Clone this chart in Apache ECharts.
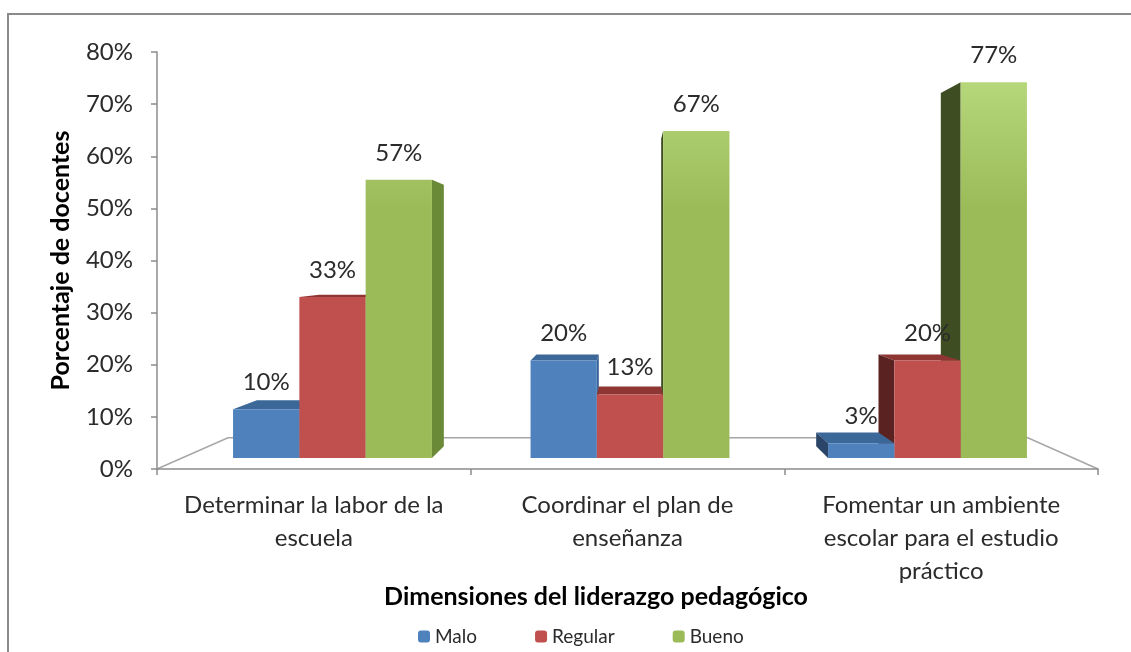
<!DOCTYPE html>
<html>
<head>
<meta charset="utf-8">
<script src="https://cdn.jsdelivr.net/npm/echarts@6/dist/echarts.min.js"></script>
<style>
html,body{margin:0;padding:0;background:#fff;}
#c{width:1131px;height:652px;}
</style>
</head>
<body>
<div id="c"></div>
<script>
// ---- data ----
const categories = ['Determinar la labor de la\nescuela', 'Coordinar el plan de\nenseñanza', 'Fomentar un ambiente\nescolar para el estudio\npráctico'];
const seriesNames = ['Malo', 'Regular', 'Bueno'];
const malo = [10, 20, 3];
const regular = [33, 13, 20];
const bueno = [57, 67, 77];
const yTicks = [0, 10, 20, 30, 40, 50, 60, 70, 80];
const xTitle = 'Dimensiones del liderazgo pedagógico';
const yTitle = 'Porcentaje de docentes';

// ---- styles / layout ----
const FONT = 'Lato';
const colors = {
  front: ['#4F81BD', '#C0504D', '#9BBB59'],
  top:   ['#3C6799', '#8E3633', '#7F9D48'],
  rightSide: ['#3B6596', '#7E2F2D', '#6A8A38'],
  leftSide:  ['#2A4568', '#5A2322', '#3E4E22']
};
const gridA = {left: 157, top: 52, width: 941, height: 417};
const gridB = {left: 183.75, top: 67.6, width: 892.5, height: 390.4};
const BAR_W = 66.3;
const DEPTH = 0.06;
const FLOOR_DEPTH = 0.15;
const VP_VALUE = 40.4;

const allValues = [malo, regular, bueno];
const barData = [];
allValues.forEach((arr, s) => arr.forEach((v, c) => barData.push([c, v, s])));

const chart = echarts.init(document.getElementById('c'), null, {renderer: 'canvas'});

function renderBar(params, api) {
  const c = api.value(0), v = api.value(1), s = api.value(2);
  const base = api.coord([c, 0]);
  const topY = api.coord([c, v])[1];
  const botY = base[1];
  const vp = [api.coord([1, 0])[0], api.coord([1, VP_VALUE])[1]];
  const x0 = base[0] + (s - 1) * BAR_W - BAR_W / 2;
  const x1 = x0 + BAR_W;
  const back = p => [p[0] + DEPTH * (vp[0] - p[0]), p[1] + DEPTH * (vp[1] - p[1])];
  const cx = (x0 + x1) / 2;
  const z = 1000 - Math.abs(cx - vp[0]);
  const children = [];
  if (topY > vp[1]) {
    children.push({type: 'polygon', z2: z, shape: {points: [[x0, topY], [x1, topY], back([x1, topY]), back([x0, topY])]},
      style: {fill: colors.top[s]}});
  }
  if (x0 > vp[0]) {
    children.push({type: 'polygon', z2: z, shape: {points: [[x0, topY], back([x0, topY]), back([x0, botY]), [x0, botY]]},
      style: {fill: colors.leftSide[s]}});
  }
  if (x1 < vp[0]) {
    children.push({type: 'polygon', z2: z, shape: {points: [[x1, topY], back([x1, topY]), back([x1, botY]), [x1, botY]]},
      style: {fill: colors.rightSide[s]}});
  }
  let frontFill = colors.front[s];
  if (s === 2) {
    frontFill = new echarts.graphic.LinearGradient(0, 70, 0, 210, [
      {offset: 0, color: '#B8D97D'}, {offset: 1, color: '#9BBB59'}], true);
  }
  children.push({type: 'rect', z2: z + 0.5, shape: {x: x0, y: topY, width: BAR_W, height: botY - topY},
    style: {fill: frontFill}});
  children.push({type: 'text', z2: 5000, x: cx, y: topY - 27,
    style: {text: v + '%', font: '24px ' + FONT, fill: '#2b2b2b', align: 'center', verticalAlign: 'middle'}});
  return {type: 'group', children: children};
}

// floor (perspective decoration) computed from layout
const vpX = gridB.left + gridB.width / 2;
const vpY = gridB.top + gridB.height * (1 - VP_VALUE / 80);
const fl = [gridA.left, gridA.top + gridA.height];
const fr = [gridA.left + gridA.width, gridA.top + gridA.height];
const fb = p => [p[0] + FLOOR_DEPTH * (vpX - p[0]), p[1] + FLOOR_DEPTH * (vpY - p[1])];

const option = {
  backgroundColor: '#fff',
  animation: false,
  textStyle: {fontFamily: FONT},
  grid: [
    Object.assign({containLabel: false}, gridA),
    Object.assign({containLabel: false}, gridB)
  ],
  xAxis: [
    {type: 'category', gridIndex: 0, data: categories,
      axisLine: {lineStyle: {color: '#8C8C8C', width: 1.5}},
      axisTick: {show: true, length: 6, interval: 0, lineStyle: {color: '#8C8C8C', width: 1.5}},
      axisLabel: {interval: 0, fontSize: 24, lineHeight: 33, color: '#2b2b2b', margin: 20, fontFamily: FONT}},
    {type: 'category', gridIndex: 1, data: categories, show: false}
  ],
  yAxis: [
    {type: 'value', gridIndex: 0, min: 0, max: 80, interval: 10,
      name: yTitle, nameLocation: 'middle', nameGap: 84,
      nameTextStyle: {fontSize: 25, fontWeight: 'bold', color: '#000', fontFamily: FONT},
      axisLine: {show: true, lineStyle: {color: '#8C8C8C', width: 1.5}},
      axisTick: {show: true, length: 6, lineStyle: {color: '#8C8C8C', width: 1.5}},
      splitLine: {show: false},
      axisLabel: {formatter: '{value}%', fontSize: 24, color: '#2b2b2b', margin: 24, fontFamily: FONT}},
    {type: 'value', gridIndex: 1, min: 0, max: 80, show: false, splitLine: {show: false}}
  ],
  legend: {
    data: seriesNames, left: 413, top: 622, itemWidth: 12, itemHeight: 12, itemGap: 58,
    textStyle: {fontSize: 19, color: '#2b2b2b', fontFamily: FONT}, selectedMode: false
  },
  graphic: [
    {type: 'rect', z: -10, shape: {x: 8, y: 14, width: 1300, height: 800},
      style: {fill: 'none', stroke: '#8A8A8A', lineWidth: 2}},
    {type: 'polyline', z: 0, shape: {points: [fl, fb(fl), fb(fr), fr]},
      style: {stroke: '#A6A6A6', lineWidth: 1.5, fill: 'none'}},
    {type: 'text', x: 596, y: 597, style: {text: xTitle, font: 'bold 25px ' + FONT, fill: '#000',
      align: 'center', verticalAlign: 'middle'}}
  ],
  series: [
    {type: 'custom', name: 'bars3d', xAxisIndex: 1, yAxisIndex: 1, data: barData,
      encode: {x: 0, y: 1}, renderItem: renderBar, clip: false, z: 3},
    {type: 'bar', name: seriesNames[0], xAxisIndex: 1, yAxisIndex: 1, data: [], itemStyle: {color: colors.front[0]}},
    {type: 'bar', name: seriesNames[1], xAxisIndex: 1, yAxisIndex: 1, data: [], itemStyle: {color: colors.front[1]}},
    {type: 'bar', name: seriesNames[2], xAxisIndex: 1, yAxisIndex: 1, data: [], itemStyle: {color: colors.front[2]}}
  ]
};
chart.setOption(option);
</script>
</body>
</html>
